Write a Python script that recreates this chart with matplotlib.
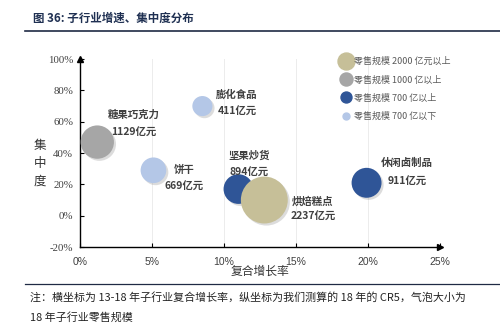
import matplotlib
matplotlib.use("Agg")
import matplotlib.pyplot as plt
from matplotlib.lines import Line2D
import matplotlib.patheffects as pe

plt.rcParams['font.family'] = ['Noto Sans CJK SC', 'DejaVu Sans']

# data
names = ["糖果巧克力", "饼干", "膨化食品", "坚果炒货", "烘焙糕点", "休闲卤制品"]
growth = [0.012, 0.051, 0.085, 0.110, 0.128, 0.199]
cr5 = [0.47, 0.29, 0.70, 0.17, 0.10, 0.21]
scale = [1129, 669, 411, 894, 2237, 911]
sizes_label = ["1129亿元", "669亿元", "411亿元", "894亿元", "2237亿元", "911亿元"]

xticks = [0, 0.05, 0.10, 0.15, 0.20, 0.25]
xticklabels = ["0%", "5%", "10%", "15%", "20%", "25%"]
yticks = [-0.2, 0, 0.2, 0.4, 0.6, 0.8, 1.0]
yticklabels = ["-20%", "0%", "20%", "40%", "60%", "80%", "100%"]

legend_labels = ["零售规模 2000 亿元以上", "零售规模 1000 亿以上",
                 "零售规模 700 亿以上", "零售规模 700 亿以下"]

c_tan, c_gray, c_dark, c_light = "#c6bf98", "#a6a6a6", "#2f5597", "#b4c7e7"


def pick_color(v):
    if v >= 2000:
        return c_tan
    if v >= 1000:
        return c_gray
    if v >= 700:
        return c_dark
    return c_light


# label offsets in points (line 1, line 2)
offsets = [((26, 20), (26, 7)), ((22, 0), (22, -12)), ((25, 8), (25, -4)),
           ((8, 24), (8, 12)), ((35, -1), (35, -12)), ((29, 14), (29, 1))]

fig = plt.figure(figsize=(5, 3.32), dpi=100)
ax = fig.add_axes([0.16, 0.256, 0.72, 0.566])

shadow = [pe.SimplePatchShadow(offset=(1.5, -1.5), alpha=0.25, shadow_rgbFace="#777777"), pe.Normal()]
order = [0, 1, 2, 3, 5, 4]  # tan bubble drawn over the dark blue one
for i in order:
    ax.scatter(growth[i], cr5[i], s=scale[i] * 0.51, color=pick_color(scale[i]),
               zorder=3, linewidths=0, path_effects=shadow, clip_on=False)

for i in range(len(names)):
    (o1, o2) = offsets[i]
    ax.annotate(names[i], (growth[i], cr5[i]), xytext=o1, textcoords="offset points",
                ha="center", va="center", fontsize=7.5, fontweight="bold", color="#404040", zorder=5)
    ax.annotate(sizes_label[i], (growth[i], cr5[i]), xytext=o2, textcoords="offset points",
                ha="center", va="center", fontsize=7.5, fontweight="bold", color="#404040", zorder=5)

ax.set_xlim(0, 0.25)
ax.set_ylim(-0.2, 1.0)
ax.set_xticks(xticks)
ax.set_xticklabels(xticklabels, fontsize=7.5, color="#404040", family="Liberation Sans")
ax.set_yticks(yticks)
ax.set_yticklabels(yticklabels, fontsize=7.8, color="#404040", family="Liberation Serif")
ax.tick_params(axis="x", direction="in", length=3, pad=7, width=0.8)
ax.tick_params(axis="y", direction="in", length=3, pad=5, width=0.8)

for x in xticks[1:]:
    ax.axvline(x, color="#ececec", lw=0.7, zorder=0)

ax.spines["top"].set_visible(False)
ax.spines["right"].set_visible(False)
ax.spines["left"].set_linewidth(1.0)
ax.spines["bottom"].set_linewidth(1.0)
ax.plot(1, 0, ">", color="black", ms=4, transform=ax.transAxes, clip_on=False)
ax.plot(0, 1, "^", color="black", ms=4, transform=ax.transAxes, clip_on=False)

ax.text(-0.111, 0.447, "集\n中\n度", transform=ax.transAxes, ha="center", va="center",
        fontsize=9, color="#333333", linespacing=1.5)
ax.text(0.50, -0.13, "复合增长率", transform=ax.transAxes, ha="center", va="center",
        fontsize=8.5, color="#333333")

handles = [Line2D([], [], ls="", marker="o", ms=12.2, color=c_tan),
           Line2D([], [], ls="", marker="o", ms=9.4, color=c_gray),
           Line2D([], [], ls="", marker="o", ms=7.9, color=c_dark),
           Line2D([], [], ls="", marker="o", ms=5, color=c_light)]
leg = ax.legend(handles, legend_labels, loc="upper left", bbox_to_anchor=(0.705, 1.05),
                frameon=False, fontsize=6.5, handlelength=1.0, handletextpad=0.4,
                labelspacing=1.0, borderpad=0.3)
for t in leg.get_texts():
    t.set_color("#595959")

# page frame: title, rules and note
fig.text(0.066, 0.946, "图 36: 子行业增速、集中度分布", fontsize=8.3, fontweight="bold",
         color="#1f3052", va="center")
fig.add_artist(Line2D([0.05, 1.0], [0.907, 0.907], color="#1f2a44", lw=1.2))
fig.add_artist(Line2D([0.05, 1.0], [0.145, 0.145], color="#1f2a44", lw=0.9))
fig.text(0.06, 0.105, "注：横坐标为 13-18 年子行业复合增长率，纵坐标为我们测算的 18 年的 CR5，气泡大小为",
         fontsize=7.9, color="#222222", va="center")
fig.text(0.06, 0.045, "18 年子行业零售规模", fontsize=7.9, color="#222222", va="center")

fig.savefig("out.png", dpi=100)
